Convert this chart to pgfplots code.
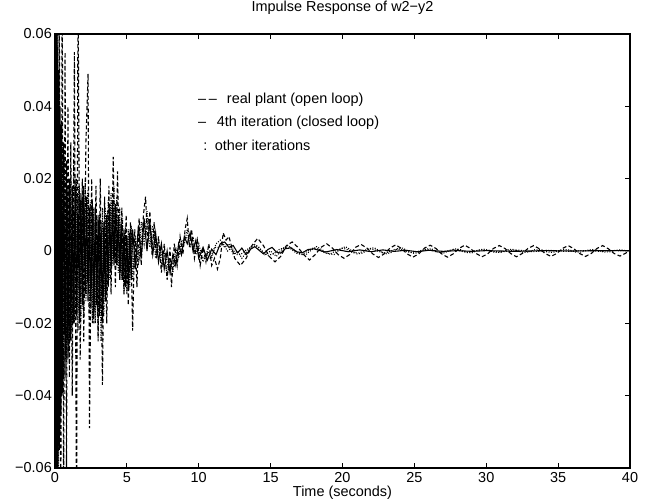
\documentclass[border=0pt]{standalone}
\usepackage{pgfplots}
\pgfplotsset{compat=1.18}
\usepackage{fontspec}
\setmainfont{Liberation Sans}

\begin{document}
\begin{tikzpicture}
\begin{axis}[
  scale only axis, width=575bp, height=434bp,
  font=\fontsize{14.5}{17}\selectfont,
  xmin=0, xmax=40, ymin=-0.06, ymax=0.06,
  xtick={0,5,...,40},
  ytick={-0.06,-0.04,-0.02,0,0.02,0.04,0.06},
  yticklabels={−0.06,−0.04,−0.02,0,0.02,0.04,0.06},
  scaled y ticks=false,
  tick align=inside, tick pos=both, major tick length=5bp,
  /pgf/number format/assume math mode=true,
  axis line style={line width=1.2pt},
  every tick/.style={line width=1pt, black},
  yticklabel style={inner sep=1bp, xshift=-2bp},
  xticklabel style={inner sep=1bp, yshift=-3bp},
  title={Impulse Response of w2−y2},
  title style={at={(axis description cs:0.5,1)}, anchor=base, yshift=16.5bp, inner sep=0pt},
  xlabel={Time (seconds)},
  xlabel style={at={(axis description cs:0.5,0)}, anchor=base, yshift=-29bp, inner sep=0pt},
  every axis plot/.append style={line width=1.1pt, black},
]
% real plant (open loop)
\addplot[dash pattern=on 4pt off 2.5pt] coordinates {
(0,0) (0.1,0.035) (0.2,-0.05) (0.3,0.07) (0.4,-0.08) (0.5,0.08) (0.6,-0.07) (0.7,0.055) (0.8,-0.06) (0.9,0.04)
(1.0,-0.035) (1.1,0.03) (1.2,-0.04) (1.35,0.055) (1.5,-0.075) (1.6,0.075) (1.75,-0.03) (1.9,0.02) (2.0,-0.025) (2.15,0.03)
(2.3,0.049) (2.4,-0.049) (2.55,0.02) (2.7,-0.02) (2.85,0.018) (3.0,-0.025) (3.15,0.02) (3.3,-0.037) (3.45,0.015) (3.6,-0.02)
(3.75,0.018) (3.9,-0.012) (4.05,0.026) (4.2,-0.01) (4.35,0.022) (4.5,-0.008) (4.65,0.012) (4.8,-0.012) (4.95,0.01) (5.1,-0.015)
(5.25,0.008) (5.4,-0.022) (5.55,0.006) (5.7,-0.01) (5.85,0.009) (6.0,-0.004) (6.15,0.01) (6.3,0.015) (6.45,0.002) (6.6,0.011)
(6.75,-0.001) (6.9,0.008) (7.05,-0.002) (7.2,0.004) (7.4,-0.006) (7.6,0.002) (7.8,-0.008) (8.0,0.001) (8.1,-0.010) (8.3,0.002)
(8.5,-0.004) (8.7,0.004) (8.9,-0.001) (9.05,0.006) (9.2,0.009) (9.35,0.001) (9.5,0.006) (9.7,-0.002) (9.9,0.003) (10.1,-0.004)
(10.3,0.001) (10.5,-0.003) (10.7,0.002) (10.9,-0.004) (11.1,-0.002) (11.3,-0.005) (11.5,-0.002) (11.7,0.005) (11.9,0.003) (12.1,0.004)
(12.3,0.001) (12.5,-0.002) (12.7,-0.003) (12.9,-0.004) (13.3,-0.002) (13.7,0.0015) (14.1,0.0035) (14.5,0.0015) (14.9,-0.0015) (15.3,-0.003)
(15.7,-0.0015) (16.1,0.0015) (16.5,0.0025) (16.9,0.001) (17.3,-0.001) (17.7,-0.0025) (18.1,-0.001) (18.5,0.001) (18.9,0.002) (19.3,0.0008)
(19.7,-0.001) (20.1,-0.002) (20.5,-0.001) (20.9,0.001) (21.3,0.0018) (21.7,0.0008) (22.1,-0.0008) (22.5,-0.0018) (22.9,-0.0008) (23.3,0.0008)
(23.7,0.0017) (24.1,0.0007) (24.5,-0.0008) (24.9,-0.0017) (25.3,-0.0008) (25.7,0.0008) (26.1,0.0016) (26.5,0.0007) (26.9,-0.0008) (27.3,-0.0017)
(27.7,-0.0008) (28.1,0.0007) (28.5,0.0016) (28.9,0.0007) (29.3,-0.0007) (29.7,-0.0016) (30.1,-0.0008) (30.5,0.0007) (30.9,0.0015) (31.3,0.0007)
(31.7,-0.0007) (32.1,-0.0016) (32.5,-0.0007) (32.9,0.0007) (33.3,0.0015) (33.7,0.0006) (34.1,-0.0007) (34.5,-0.0015) (34.9,-0.0007) (35.3,0.0007)
(35.7,0.0015) (36.1,0.0006) (36.5,-0.0007) (36.9,-0.0015) (37.3,-0.0007) (37.7,0.0007) (38.1,0.0015) (38.5,0.0006) (38.9,-0.0007) (39.3,-0.0014)
(39.7,-0.0006) (40,0.0002)
};
% 4th iteration (closed loop)
\addplot[solid] coordinates {
(0,0) (0.05,0.065) (0.1,-0.07) (0.15,0.065) (0.2,-0.065) (0.25,0.05) (0.3,-0.055) (0.35,0.04) (0.4,-0.045) (0.45,0.035)
(0.5,-0.04) (0.6,0.03) (0.7,-0.035) (0.8,0.025) (0.9,-0.03) (1.0,0.02) (1.1,-0.025) (1.2,0.018) (1.3,-0.02) (1.4,0.02)
(1.5,-0.018) (1.6,0.015) (1.7,-0.02) (1.8,0.016) (1.9,-0.015) (2.0,0.018) (2.1,-0.012) (2.2,0.015) (2.3,-0.014) (2.4,0.012)
(2.5,-0.016) (2.6,0.014) (2.7,-0.018) (2.8,0.012) (2.9,-0.015) (3.0,0.01) (3.1,-0.018) (3.2,0.008) (3.3,-0.02) (3.4,0.008)
(3.5,-0.014) (3.6,0.01) (3.7,-0.01) (3.8,0.012) (3.9,-0.006) (4.0,0.014) (4.1,-0.004) (4.2,0.013) (4.3,-0.004) (4.4,0.01)
(4.5,-0.006) (4.6,0.008) (4.7,-0.008) (4.8,0.006) (4.9,-0.01) (5.0,0.004) (5.1,-0.01) (5.2,0.005) (5.3,-0.008) (5.4,0.006)
(5.6,-0.005) (5.8,0.007) (6.0,-0.002) (6.2,0.009) (6.4,0.0) (6.6,0.008) (6.8,-0.001) (7.0,0.005) (7.2,-0.003) (7.4,0.002)
(7.6,-0.005) (7.8,0.0) (8.0,-0.006) (8.2,-0.001) (8.4,-0.004) (8.6,0.002) (8.8,-0.001) (9.0,0.004) (9.2,0.002) (9.4,0.005)
(9.6,0.0) (9.8,0.003) (10.0,-0.002) (10.3,0.001) (10.6,-0.0025) (10.9,0.0005) (11.2,-0.001) (11.5,0.002) (11.8,0.0025) (12.1,0.001)
(12.4,0.0015) (12.7,-0.0005) (13.0,0.0008) (13.3,-0.001) (13.6,0.0005) (13.9,0.0012) (14.2,0.0002) (14.5,-0.0008) (14.8,0.0004) (15.1,0.001)
(15.4,-0.0003) (15.7,-0.0006) (16.0,0.0006) (16.4,0.0009) (16.8,-0.0002) (17.2,-0.0005) (17.6,0.0004) (18.0,0.0006) (18.8,-0.0003) (19.6,0.0004)
(20.4,-0.0002) (21.2,0.0003) (22.0,-0.0002) (22.8,0.0003) (23.6,-0.0001) (24.4,0.0002) (25.2,-0.0002) (26.0,0.0002) (27.0,-0.0001) (28.0,0.0001)
(29.0,-0.0001) (30.0,0.0001) (32.0,-0.0001) (34.0,0.0001) (36.0,0.0) (38.0,0.0001) (40,0.0001)
};
% other iterations
\addplot[dash pattern=on 1pt off 1.5pt] coordinates {
(0,0) (0.05,-0.04) (0.1,0.07) (0.15,-0.07) (0.2,0.06) (0.25,-0.06) (0.3,0.045) (0.35,-0.05) (0.4,0.03) (0.45,-0.04)
(0.5,0.025) (0.6,-0.035) (0.7,0.02) (0.8,-0.03) (0.9,0.018) (1.0,-0.025) (1.1,0.02) (1.2,-0.02) (1.3,0.025) (1.4,-0.018)
(1.5,0.02) (1.6,-0.022) (1.7,0.018) (1.8,-0.02) (1.9,0.015) (2.0,-0.018) (2.1,0.02) (2.2,-0.012) (2.3,0.017) (2.4,-0.016)
(2.5,0.014) (2.6,-0.02) (2.7,0.012) (2.8,-0.02) (2.9,0.01) (3.0,-0.022) (3.1,0.01) (3.2,-0.025) (3.3,0.012) (3.4,-0.018)
(3.5,0.012) (3.6,-0.012) (3.7,0.014) (3.8,-0.008) (3.9,0.016) (4.0,-0.004) (4.1,0.018) (4.2,-0.003) (4.3,0.015) (4.4,-0.006)
(4.5,0.012) (4.6,-0.008) (4.7,0.009) (4.8,-0.011) (4.9,0.007) (5.0,-0.012) (5.1,0.006) (5.2,-0.01) (5.3,0.007) (5.4,-0.008)
(5.6,0.004) (5.8,-0.004) (6.0,0.008) (6.2,0.002) (6.4,0.011) (6.6,0.001) (6.8,0.007) (7.0,-0.002) (7.2,0.003) (7.4,-0.004)
(7.6,0.0) (7.8,-0.007) (8.0,-0.002) (8.2,-0.006) (8.4,0.001) (8.6,-0.002) (8.8,0.003) (9.0,0.002) (9.2,0.006) (9.4,0.001)
(9.6,0.004) (9.8,-0.001) (10.0,0.002) (10.3,-0.003) (10.6,0.0) (10.9,-0.002) (11.2,0.002) (11.5,0.003) (11.8,0.001) (12.1,0.002)
(12.4,-0.001) (12.7,0.0) (13.0,-0.002) (13.4,0.0) (13.8,0.002) (14.2,0.001) (14.6,-0.001) (15.0,0.0) (15.4,-0.0015) (15.8,0.0005)
(16.2,0.0015) (16.6,0.0005) (17.0,-0.0008) (17.4,-0.0012) (17.8,0.0002) (18.2,0.0012) (18.6,0.0003) (19.0,-0.0008) (19.4,-0.001) (19.8,0.0004)
(20.2,0.0012) (20.6,0.0002) (21.0,-0.0008) (21.4,-0.0006) (21.8,0.0006) (22.2,0.0009) (22.6,0.0) (23.0,-0.0008) (23.4,-0.0004) (23.8,0.0006)
(24.2,0.0008) (24.6,-0.0002) (25.0,-0.0007) (25.4,-0.0002) (25.8,0.0006) (26.2,0.0006) (26.6,-0.0003) (27.0,-0.0006) (27.4,0.0) (27.8,0.0006)
(28.2,0.0004) (28.6,-0.0004) (29.0,-0.0005) (29.4,0.0002) (29.8,0.0005) (30.2,0.0002) (30.6,-0.0004) (31.0,-0.0004) (31.4,0.0003) (31.8,0.0005)
(32.2,0.0) (32.6,-0.0004) (33.0,-0.0002) (33.4,0.0004) (33.8,0.0004) (34.2,-0.0002) (34.6,-0.0004) (35.0,0.0) (35.4,0.0004) (35.8,0.0003)
(36.2,-0.0003) (36.6,-0.0003) (37.0,0.0002) (37.4,0.0004) (37.8,0.0001) (38.2,-0.0003) (38.6,-0.0002) (39.0,0.0002) (39.4,0.0003) (39.8,0.0)
(40,0.0)
};
\addplot[dash pattern=on 1pt off 1.5pt] coordinates {
(0,0) (0.05,0.05) (0.1,-0.06) (0.15,0.05) (0.2,-0.07) (0.25,0.04) (0.3,-0.055) (0.35,0.03) (0.4,-0.045) (0.5,0.03)
(0.55,-0.035) (0.65,0.025) (0.75,-0.03) (0.85,0.015) (0.95,-0.028) (1.05,0.015) (1.15,-0.022) (1.25,0.012) (1.35,-0.02) (1.45,0.016)
(1.55,-0.015) (1.65,0.018) (1.75,-0.014) (1.85,0.014) (1.95,-0.016) (2.05,0.012) (2.15,-0.014) (2.25,0.016) (2.35,-0.01) (2.45,0.013)
(2.55,-0.014) (2.65,0.01) (2.75,-0.016) (2.85,0.008) (2.95,-0.018) (3.05,0.008) (3.15,-0.016) (3.25,0.006) (3.35,-0.013) (3.45,0.008)
(3.55,-0.009) (3.65,0.011) (3.75,-0.006) (3.85,0.013) (3.95,-0.003) (4.05,0.012) (4.15,-0.002) (4.25,0.011) (4.35,-0.004) (4.45,0.009)
(4.55,-0.006) (4.65,0.006) (4.75,-0.008) (4.85,0.005) (4.95,-0.009) (5.05,0.004) (5.15,-0.007) (5.3,0.005) (5.5,-0.005) (5.7,0.002)
(5.9,-0.002) (6.1,0.006) (6.3,0.004) (6.5,0.009) (6.7,0.002) (6.9,0.005) (7.1,-0.001) (7.3,0.001) (7.5,-0.003) (7.7,-0.001)
(7.9,-0.005) (8.1,-0.003) (8.3,-0.004) (8.5,0.0) (8.7,-0.001) (8.9,0.002) (9.1,0.004) (9.3,0.003) (9.5,0.003) (9.7,0.0)
(9.9,0.001) (10.2,-0.002) (10.5,-0.001) (10.8,-0.002) (11.1,0.001) (11.4,0.001) (11.7,0.002) (12.0,0.0) (12.3,0.001) (12.6,-0.001)
(12.9,-0.001) (13.2,0.0) (13.6,0.001) (14.0,0.0015) (14.4,0.0) (14.8,-0.0012) (15.2,-0.0008) (15.6,0.0004) (16.0,0.001) (16.4,0.0006)
(16.8,-0.0006) (17.2,-0.0009) (17.6,0.0) (18.0,0.0009) (18.4,0.0004) (18.8,-0.0006) (19.2,-0.0007) (19.6,0.0002) (20.0,0.0008) (20.4,0.0003)
(20.8,-0.0005) (21.2,-0.0005) (21.6,0.0003) (22.0,0.0006) (22.4,0.0001) (22.8,-0.0005) (23.2,-0.0003) (23.6,0.0004) (24.0,0.0005) (24.4,-0.0001)
(24.8,-0.0004) (25.2,-0.0002) (25.6,0.0003) (26.0,0.0004) (26.4,-0.0001) (26.8,-0.0004) (27.2,-0.0001) (27.6,0.0003) (28.0,0.0003) (28.4,-0.0002)
(28.8,-0.0003) (29.2,0.0) (29.6,0.0003) (30.0,0.0002) (30.6,-0.0002) (31.2,-0.0002) (31.8,0.0002) (32.4,0.0002) (33.0,-0.0002) (33.6,-0.0001)
(34.2,0.0002) (34.8,0.0001) (35.4,-0.0001) (36.0,-0.0001) (36.6,0.0001) (37.2,0.0001) (37.8,-0.0001) (38.4,0.0) (39.0,0.0001) (40,0.0)
};
% text legend
\node[anchor=base west, inner sep=0pt] at (axis cs:9.95,0.0409) {–\kern2.5bp–};
\node[anchor=base west, inner sep=0pt] at (axis cs:11.95,0.0409) {real plant (open loop)};
\node[anchor=base west, inner sep=0pt] at (axis cs:9.95,0.0343) {–};
\node[anchor=base west, inner sep=0pt] at (axis cs:11.25,0.0343) {4th iteration (closed loop)};
\node[anchor=base west, inner sep=0pt] at (axis cs:10.3,0.0279) {:};
\node[anchor=base west, inner sep=0pt] at (axis cs:11.1,0.0279) {other iterations};
\end{axis}
\path (current axis.south west) ++(-55bp,-36bp) rectangle ++(645bp,504bp);
\end{tikzpicture}
\end{document}
